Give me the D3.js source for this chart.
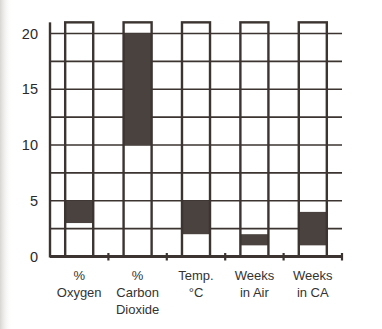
<!DOCTYPE html>
<html>
<head>
<meta charset="utf-8">
<script src="https://cdn.jsdelivr.net/npm/d3@7"></script>
<style>
  html, body { margin: 0; padding: 0; background: #fff; }
  svg { display: block; }
</style>
</head>
<body>
<svg id="chart" width="382" height="329"></svg>
<script>
// Storage conditions: each column shows a recommended range (low..high)
const categories = [
  ["%", "Oxygen"],
  ["%", "Carbon", "Dioxide"],
  ["Temp.", "°C"],
  ["Weeks", "in Air"],
  ["Weeks", "in CA"]
];
const rangeLow  = [3, 10, 2, 1, 1];
const rangeHigh = [5, 20, 5, 2, 4];
const columnTop = 21;
const yTicks = [0, 5, 10, 15, 20];
const gridValues = [2.5, 5, 7.5, 10, 12.5, 15, 17.5, 20];

const ink = "#3b3431";
const fillInk = "#4a423e";

const svg = d3.select("#chart");
const W = 382, H = 329;

// faint paper shading along the left edge
const defs = svg.append("defs");
const grad = defs.append("linearGradient").attr("id", "edge").attr("x1", 0).attr("x2", 1);
grad.append("stop").attr("offset", 0).attr("stop-color", "#d8d6d2");
grad.append("stop").attr("offset", 1).attr("stop-color", "#ffffff").attr("stop-opacity", 0);
svg.append("rect").attr("width", W).attr("height", H).attr("fill", "#fff");
svg.append("rect").attr("width", 12).attr("height", H).attr("fill", "url(#edge)");

const left = 50, right = 342, baseY = 256.5, topY = 33.5;

const x = d3.scaleBand()
  .domain(d3.range(categories.length))
  .range([left, right])
  .padding(0);
const y = d3.scaleLinear().domain([0, 20]).range([baseY, topY]);

const barW = x.bandwidth() * 0.48;

// horizontal grid lines
svg.append("g").selectAll("line").data(gridValues).join("line")
  .attr("x1", left).attr("x2", right)
  .attr("y1", d => y(d)).attr("y2", d => y(d))
  .attr("stroke", ink).attr("stroke-width", 1.6);

// range fills inside each column
svg.append("g").selectAll("rect").data(d3.range(categories.length)).join("rect")
  .attr("x", i => x(i) + (x.bandwidth() - barW) / 2)
  .attr("width", barW)
  .attr("y", i => y(rangeHigh[i]))
  .attr("height", i => y(rangeLow[i]) - y(rangeHigh[i]))
  .attr("fill", fillInk);

// open columns
svg.append("g").selectAll("rect").data(d3.range(categories.length)).join("rect")
  .attr("x", i => x(i) + (x.bandwidth() - barW) / 2)
  .attr("width", barW)
  .attr("y", y(columnTop))
  .attr("height", y(0) - y(columnTop))
  .attr("fill", "none")
  .attr("stroke", ink).attr("stroke-width", 2.4);

// left axis
svg.append("line")
  .attr("x1", left).attr("x2", left)
  .attr("y1", y(columnTop)).attr("y2", baseY + 1)
  .attr("stroke", ink).attr("stroke-width", 2.4);

// baseline with ticks at category boundaries
svg.append("line")
  .attr("x1", left).attr("x2", right)
  .attr("y1", baseY).attr("y2", baseY)
  .attr("stroke", ink).attr("stroke-width", 2.8);
const bounds = d3.range(categories.length + 1).map(i => left + i * x.step());
svg.append("g").selectAll("line").data(bounds.slice(1)).join("line")
  .attr("x1", d => d).attr("x2", d => d)
  .attr("y1", baseY - 3.5).attr("y2", baseY + 4)
  .attr("stroke", ink).attr("stroke-width", 2.2);

// y tick labels
svg.append("g").selectAll("text").data(yTicks).join("text")
  .attr("x", 38).attr("y", d => y(d))
  .attr("dy", "0.36em")
  .attr("text-anchor", "end")
  .attr("font-family", "Liberation Sans, Arial, sans-serif")
  .attr("font-size", 14.5)
  .attr("fill", "#2a2a2a")
  .text(d => d);

// category labels
const lab = svg.append("g").selectAll("text").data(categories).join("text")
  .attr("x", (d, i) => x(i) + x.bandwidth() / 2)
  .attr("y", 280)
  .attr("text-anchor", "middle")
  .attr("font-family", "Liberation Sans, Arial, sans-serif")
  .attr("font-size", 13)
  .attr("fill", "#333");
lab.selectAll("tspan").data(d => d).join("tspan")
  .attr("x", function() { return d3.select(this.parentNode).attr("x"); })
  .attr("dy", (d, j) => j === 0 ? 0 : 17)
  .text(d => d);
</script>
</body>
</html>
